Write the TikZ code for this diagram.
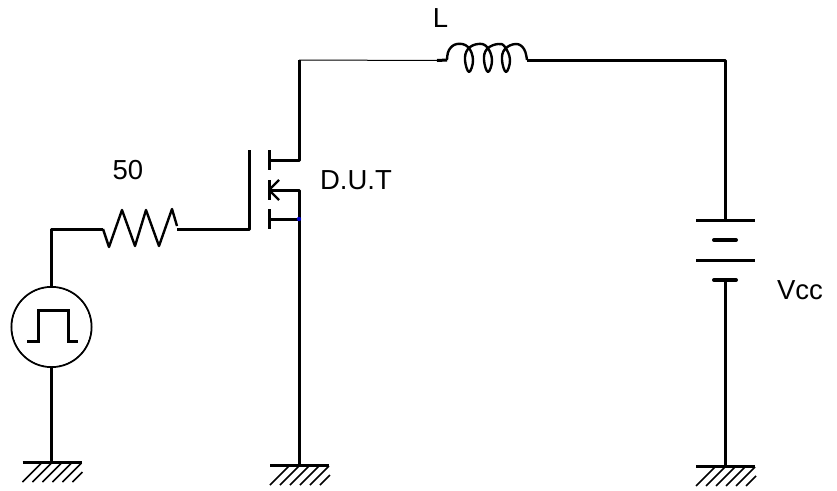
\documentclass[tikz,border=0pt]{standalone}
\usepackage{fontspec}
\setmainfont{Liberation Sans}
\usetikzlibrary{positioning}
\tikzstyle{cable} = [line width=3pt, line join=round]
\tikzstyle{bobina} = [line width=2.4pt, line join=round]
\tikzstyle{rayado} = [line width=1.7pt]
\tikzstyle{fuente} = [draw, circle, line width=2pt, minimum size=80pt, inner sep=0pt]
\tikzstyle{etiqueta} = [inner sep=0pt, font=\fontsize{27.5}{30}\selectfont]
\tikzstyle{placacorta} = [line width=4pt, line cap=round]
\newcommand{\tierra}[1]{%
	\draw[cable] ([xshift=-29pt]#1) -- ([xshift=30pt]#1);
	\foreach \h in {0,10,20,30,40}
		\draw[rayado] ([xshift=\h pt-29pt,yshift=-20pt]#1) -- ([xshift=\h pt-10pt,yshift=-1pt]#1);
	\draw[rayado] ([xshift=21pt,yshift=-20pt]#1) -- ([xshift=31pt,yshift=-10pt]#1);
}

\begin{document}
\begin{tikzpicture}[x=1pt,y=-1pt]
	\useasboundingbox (0,0) rectangle (837,490);
	\node[fuente] (pulso) at (51.5,327) {};
	\coordinate (masaA) at (51.5,462);
	\coordinate (masaB) at (299,465);
	\coordinate (masaC) at (725,466);
	\coordinate (esqA) at (51.5,229);
	\coordinate (resA) at (103,229);
	\coordinate (resB) at (177,229);
	\coordinate (puerta) at (249,229);
	\coordinate (puertaTop) at (249,150);
	\coordinate (drenA) at (269,160);
	\coordinate (drenB) at (299,160);
	\coordinate (bodyA) at (269,190);
	\coordinate (bodyB) at (299,190);
	\coordinate (fuenteA) at (269,219);
	\coordinate (fuenteB) at (299,219);
	\coordinate (esqB) at (299,60);
	\coordinate (bobA) at (437,60.5);
	\coordinate (bobB) at (447,60);
	\coordinate (bobC) at (527,60);
	\coordinate (esqC) at (725,60);
	\coordinate (batA) at (725,220);
	\coordinate (batB) at (725,280);

	\draw[cable] (masaA) -- (pulso);
	\draw[cable] (pulso) -- (esqA) -- (resA);
	\fill[white] (pulso.center) circle (39pt);
	\draw[bobina] (resA) -- ++(6,18) -- ++(13,-37) -- ++(13,36) -- ++(11,-36) -- ++(13,36) -- ++(13,-37) -- ++(5,17);
	\draw[cable] (resB) -- (puerta) -- (puertaTop);
	\draw[cable] (269,150) -- (269,170);
	\draw[cable] (269,180) -- (269,200);
	\draw[cable] (269,209) -- (269,229);
	\draw[cable] (esqB) -- (drenB) -- (drenA);
	\draw[cable] (bodyA) -- (bodyB) -- (masaB);
	\draw[cable] (fuenteA) -- (fuenteB);
	\draw[bobina] (279,180) -- (bodyA) -- (279,200);
	\fill[blue!80!black] (fuenteB) circle (2.2pt);
	\draw[line width=1pt] (esqB) -- (bobA);
	\draw[cable] (bobA) -- (bobB);
	\draw[bobina] plot[smooth, tension=0.7] coordinates {(bobB) (449,50) (457,44) (468,47) (473,60) (469,72) (465,60) (468,49) (478,44) (487,47) (492,60) (488,72) (484,60) (487,49) (498,44) (505,47) (510,60) (506,72) (502,60) (505,49) (516,44) (524,49) (bobC)};
	\draw[cable] (bobC) -- (esqC) -- (batA);
	\draw[cable] (696,220) -- (755,220);
	\draw[placacorta] (714,240) -- (736,240);
	\draw[cable] (696,260) -- (755,260);
	\draw[placacorta] (714,280) -- (736,280);
	\draw[cable] (batB) -- (masaC);
	\draw[cable, line join=miter] ([shift={(-24.5,14)}]pulso.center) -- ++(11,0) -- ++(0,-31) -- ++(30,0) -- ++(0,31) -- ++(10,0);
	\tierra{masaA}
	\tierra{masaB}
	\tierra{masaC}
	\node[etiqueta] (lblR) at (128,170.5) {50};
	\node[etiqueta] (lblL) at (440.5,18.5) {L};
	\node[etiqueta] (lblDUT) at (356,180) {D.U.T};
	\node[etiqueta] (lblVcc) at (800,290) {Vcc};
\end{tikzpicture}
\end{document}
